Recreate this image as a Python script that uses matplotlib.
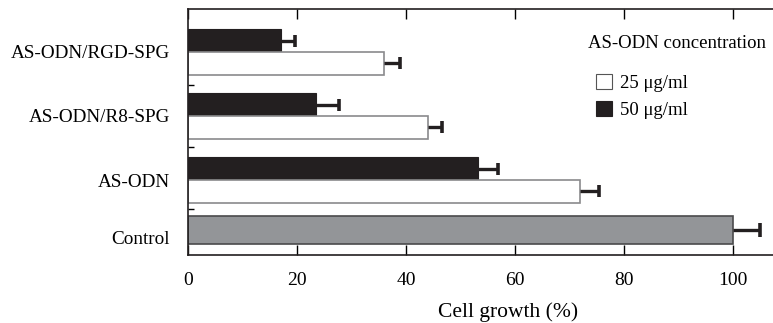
import numpy as np
import matplotlib
matplotlib.use('Agg')
from matplotlib import pyplot as plt
from matplotlib.patches import Patch

plt.rcParams['font.family'] = ['Liberation Serif', 'DejaVu Serif']

# data
groups = ['AS-ODN/RGD-SPG', 'AS-ODN/R8-SPG', 'AS-ODN']
growth25 = [36.0, 44.0, 71.9]      # white bars
err25 = [2.8, 2.6, 3.4]
growth50 = [17.1, 23.4, 53.2]      # black bars
err50 = [2.5, 4.3, 3.7]
control = 100.0
control_err = 4.9

dark = '#231f20'
fig = plt.figure(figsize=(7.73, 3.23), dpi=100)
ax = fig.add_axes([0.2432, 0.2105, 0.7568, 0.7616])

centers = np.array([3.17, 2.17, 1.17])
h = 0.355


def one_sided_err(y, x, e, cap):
    # only the upper half of the error bar, with a cap at the end
    x = np.asarray(x); e = np.asarray(e)
    ax.hlines(y, x, x + e, color=dark, lw=2.4, zorder=3)
    ax.plot(x + e, y, ls='none', marker='|', ms=cap, mew=2.6, color=dark, zorder=3)


ax.barh(centers + h / 2, growth50, height=h, color=dark, edgecolor=dark, lw=0.8)
ax.barh(centers - h / 2, growth25, height=h, color='white', edgecolor='#8a8a8c', lw=1.2)
ax.barh([0.39], [control], height=0.44, color='#939598', edgecolor='#4a4a4c', lw=1.2)
one_sided_err(centers + h / 2, growth50, err50, 9)
one_sided_err(centers - h / 2, growth25, err25, 9)
one_sided_err([0.39], [control], [control_err], 10.5)

ax.set_xlim(0, 107.3)
ax.set_ylim(0, 3.84)

ax.set_xticks([0, 20, 40, 60, 80, 100])
ax.tick_params(axis='x', direction='in', length=7, width=1, labelsize=14, pad=12, top=True)
ax.set_yticks(list(centers) + [0.28])
ax.set_yticklabels(groups + ['Control'])
ax.set_yticks([2.66, 1.69, 0.72], minor=True)
ax.tick_params(axis='y', which='major', length=0, labelsize=13.8, pad=13)
ax.tick_params(axis='y', which='minor', direction='in', length=4, width=1)

ax.spines['right'].set_visible(False)
for s in ['left', 'top', 'bottom']:
    ax.spines[s].set_linewidth(1.2)
    ax.spines[s].set_color(dark)

fig.text(508 / 773, 1 - 317 / 323, 'Cell growth (%)', ha='center', va='baseline', fontsize=15.5)

fig.text(588 / 773, 1 - 43 / 323, 'AS-ODN concentration', ha='left', va='center', fontsize=13.5)
handles = [Patch(facecolor='white', edgecolor='#555555', lw=0.8),
           Patch(facecolor=dark, edgecolor=dark, lw=0.8)]
ax.legend(handles, ['25 \u03bcg/ml', '50 \u03bcg/ml'], frameon=False, fontsize=13.5,
          loc='upper left', bbox_to_anchor=(596 / 773, 1 - 74 / 323),
          bbox_transform=fig.transFigure, borderaxespad=0, borderpad=0,
          handlelength=0.85, handleheight=0.85, handletextpad=0.45, labelspacing=0.5)

fig.savefig('out.png', dpi=100)
